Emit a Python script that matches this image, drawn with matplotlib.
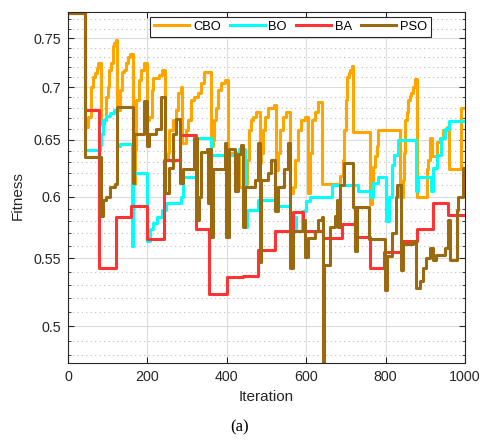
import numpy as np
import matplotlib
matplotlib.use('Agg')
import matplotlib.pyplot as plt
from matplotlib.ticker import FixedLocator, NullFormatter

# data (iteration where a level starts, fitness level)
cbo_it = [0, 43, 50, 58, 63, 68, 72, 76, 83, 91, 96, 100, 104, 108, 113, 117, 121, 123, 130, 135, 141, 146, 151, 157,
          163, 168, 172, 180, 185, 192, 200, 205, 211, 215, 228, 237, 245, 251, 255, 264, 272, 276, 285, 287, 297, 303,
          310, 318, 327, 335, 343, 361, 365, 369, 373, 378, 385, 395, 403, 430, 445, 450, 455, 460, 466, 473, 483,
          487, 491, 497, 503, 520, 524, 528, 535, 541, 548, 558, 566, 571, 580, 588, 596, 604, 610, 614, 622, 630,
          640, 681, 684, 692, 696, 700, 704, 707, 710, 715, 719, 761, 765, 769, 774, 778, 782, 836, 844, 846, 849,
          853, 857, 861, 865, 870, 875, 880, 904, 908, 912, 916, 929, 937, 945, 955, 960, 990, 1000]
cbo_val = [0.777, 0.662, 0.671, 0.700, 0.710, 0.714, 0.719, 0.724, 0.665, 0.668, 0.690, 0.700, 0.717, 0.724, 0.742,
           0.745, 0.748, 0.678, 0.697, 0.715, 0.717, 0.724, 0.730, 0.733, 0.611, 0.641, 0.687, 0.707, 0.717, 0.724,
           0.668, 0.671, 0.697, 0.709, 0.712, 0.717, 0.632, 0.638, 0.659, 0.668, 0.678, 0.694, 0.700, 0.647, 0.659,
           0.668, 0.687, 0.690, 0.694, 0.704, 0.715, 0.644, 0.650, 0.668, 0.680, 0.697, 0.704, 0.707, 0.638, 0.608,
           0.611, 0.632, 0.659, 0.668, 0.671, 0.676, 0.629, 0.638, 0.659, 0.671, 0.680, 0.683, 0.623, 0.638, 0.659,
           0.671, 0.676, 0.603, 0.608, 0.632, 0.659, 0.668, 0.671, 0.603, 0.638, 0.668, 0.676, 0.685, 0.611, 0.611,
           0.618, 0.632, 0.659, 0.687, 0.710, 0.714, 0.717, 0.721, 0.657, 0.594, 0.611, 0.626, 0.635, 0.644, 0.659,
           0.600, 0.614, 0.638, 0.668, 0.676, 0.687, 0.691, 0.694, 0.700, 0.708, 0.600, 0.624, 0.632, 0.652, 0.635,
           0.648, 0.652, 0.659, 0.662, 0.624, 0.680, 0.680]

bo_it = [0, 43, 80, 83, 88, 96, 106, 116, 124, 130, 160, 164, 200, 207, 213, 225, 238, 247, 280, 285, 289, 322, 361,
         430, 445, 452, 478, 528, 560, 575, 590, 600, 610, 664, 731, 761, 769, 781, 800, 808, 815, 822, 832, 876,
         882, 914, 920, 930, 940, 950, 960, 1000]
bo_val = [0.777, 0.641, 0.645, 0.655, 0.668, 0.672, 0.675, 0.678, 0.644, 0.646, 0.560, 0.620, 0.564, 0.573, 0.578,
          0.583, 0.589, 0.595, 0.595, 0.600, 0.617, 0.652, 0.636, 0.642, 0.575, 0.589, 0.597, 0.592, 0.583, 0.572,
          0.588, 0.596, 0.600, 0.610, 0.605, 0.600, 0.612, 0.617, 0.580, 0.600, 0.627, 0.636, 0.650, 0.605, 0.617,
          0.605, 0.625, 0.636, 0.652, 0.660, 0.667, 0.667]

ba_it = [0, 43, 79, 121, 159, 200, 242, 281, 322, 356, 401, 440, 479, 521, 568, 593, 643, 690, 727, 761, 795, 845,
         878, 920, 958, 1000]
ba_val = [0.777, 0.678, 0.543, 0.583, 0.592, 0.565, 0.632, 0.654, 0.573, 0.523, 0.536, 0.537, 0.557, 0.572, 0.587,
          0.572, 0.566, 0.577, 0.567, 0.543, 0.555, 0.564, 0.573, 0.595, 0.585, 0.585]

pso_it = [0, 43, 83, 88, 96, 106, 118, 124, 163, 166, 192, 200, 205, 222, 234, 245, 255, 265, 272, 282, 289, 318,
          324, 331, 335, 350, 352, 356, 361, 366, 395, 399, 405, 420, 427, 437, 440, 445, 470, 479, 483, 487, 505,
          512, 522, 529, 545, 554, 558, 567, 593, 598, 605, 622, 630, 639, 642, 646, 660, 672, 677, 681, 686, 694,
          719, 723, 727, 757, 799, 803, 815, 825, 828, 838, 843, 870, 876, 886, 895, 903, 912, 920, 928, 949, 956,
          961, 979, 983, 995, 1000]
pso_val = [0.777, 0.634, 0.584, 0.597, 0.600, 0.608, 0.611, 0.681, 0.612, 0.655, 0.686, 0.644, 0.655, 0.660, 0.690,
           0.603, 0.625, 0.655, 0.669, 0.612, 0.624, 0.652, 0.581, 0.600, 0.639, 0.642, 0.595, 0.642, 0.567, 0.624,
           0.647, 0.567, 0.642, 0.605, 0.637, 0.645, 0.575, 0.608, 0.614, 0.647, 0.547, 0.614, 0.620, 0.632, 0.588,
           0.608, 0.624, 0.647, 0.543, 0.572, 0.581, 0.551, 0.566, 0.572, 0.581, 0.583, 0.46, 0.545, 0.575, 0.584,
           0.597, 0.575, 0.610, 0.629, 0.591, 0.556, 0.591, 0.565, 0.526, 0.552, 0.570, 0.600, 0.610, 0.541, 0.561,
           0.564, 0.528, 0.533, 0.543, 0.550, 0.558, 0.549, 0.553, 0.558, 0.581, 0.549, 0.589, 0.600, 0.625, 0.625]

names = ['CBO', 'BO', 'BA', 'PSO']
colors = ['#FFA500', '#00FFFF', '#FF3333', '#9C6A0E']

plt.rcParams['font.family'] = ['Liberation Sans', 'DejaVu Sans']

fig = plt.figure(figsize=(4.8, 4.41), dpi=100)
ax = fig.add_axes([68/480, 1-363/441, 397/480, 351/441])

series = [(cbo_it, cbo_val), (bo_it, bo_val), (ba_it, ba_val), (pso_it, pso_val)]
for (xs, ys), nm, c in zip(series, names, colors):
    ax.step(xs, ys, where='post', color=c, lw=2.2, label=nm)

ax.set_yscale('log')
ax.set_xlim(0, 1000)
ax.set_ylim(0.4748, 0.778)
ax.set_xticks([0, 200, 400, 600, 800, 1000])
ax.set_xticklabels(['0', '200', '400', '600', '800', '1000'])
yt = [0.5, 0.55, 0.6, 0.65, 0.7, 0.75]
ax.yaxis.set_major_locator(FixedLocator(yt))
ax.set_yticklabels(['0.5', '0.55', '0.6', '0.65', '0.7', '0.75'])
minor = [v / 100 for v in range(48, 78) if v % 5 != 0]
ax.yaxis.set_minor_locator(FixedLocator(minor))
ax.yaxis.set_minor_formatter(NullFormatter())

ax.grid(True, which='major', color='#DCDCDC', lw=0.8)
ax.grid(True, which='minor', axis='y', color='#BFBFBF', lw=0.8, linestyle=(0, (1, 3)))
ax.set_axisbelow(True)
ax.tick_params(which='both', direction='in', top=True, right=True, colors='#262626', labelsize=10.3)
ax.tick_params(which='major', length=4, pad=5)
ax.tick_params(which='minor', length=2.5)
for s in ax.spines.values():
    s.set_color('#262626')
    s.set_linewidth(0.8)

leg = ax.legend(loc='upper center', bbox_to_anchor=(0.5605, 0.986), ncol=4, fontsize=9.3, handlelength=2.7,
                columnspacing=0.7, handletextpad=0.3, borderpad=0.3, borderaxespad=0, fancybox=False,
                framealpha=1)
leg.get_frame().set_edgecolor('#262626')
leg.get_frame().set_linewidth(0.8)

fig.text(18/480, 1-196/441, 'Fitness', rotation=90, ha='center', va='center', fontsize=11, color='#262626')
fig.text(266/480, 1-397/441, 'Iteration', ha='center', va='center', fontsize=11, color='#262626')
fig.text(240/480, 1-427/441, '(a)', ha='center', va='center', fontsize=12, family='Liberation Serif')

fig.savefig('out.png', dpi=100)
